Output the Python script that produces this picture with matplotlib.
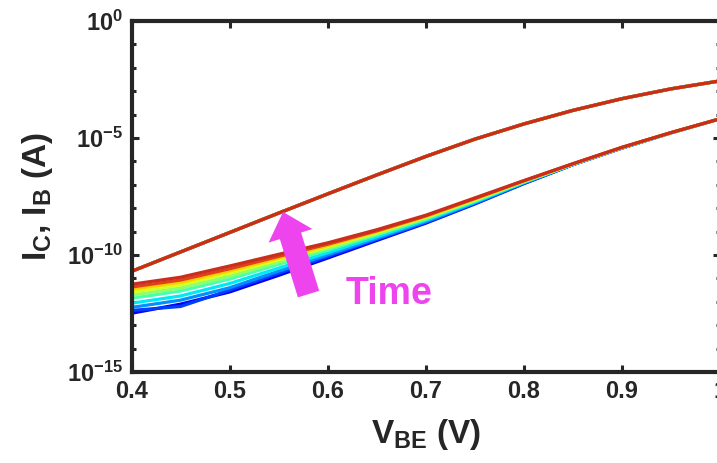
import numpy as np
import matplotlib
matplotlib.use("Agg")
import matplotlib.pyplot as plt
from matplotlib.patches import FancyArrowPatch
from matplotlib.ticker import NullFormatter, NullLocator

# ---------------- data (log10 of current in A) ----------------
vbe = [0.40, 0.45, 0.50, 0.55, 0.60, 0.65, 0.70, 0.75, 0.80, 0.85, 0.90, 0.95, 1.00]

log_ic = [-10.70, -9.87, -9.04, -8.21, -7.39, -6.58, -5.79, -5.05, -4.40, -3.82, -3.32, -2.90, -2.56]

log_ib_t1 = [-12.49, -12.10, -11.58, -10.87, -10.13, -9.38, -8.64, -7.82, -6.95, -6.14, -5.43, -4.78, -4.18]
log_ib_t2 = [-12.37, -12.20, -11.50, -10.78, -10.06, -9.33, -8.61, -7.80, -6.94, -6.14, -5.43, -4.78, -4.18]
log_ib_t3 = [-12.24, -11.93, -11.40, -10.69, -9.99, -9.29, -8.57, -7.77, -6.92, -6.13, -5.42, -4.78, -4.18]
log_ib_t4 = [-12.06, -11.75, -11.22, -10.56, -9.90, -9.22, -8.52, -7.74, -6.90, -6.13, -5.42, -4.78, -4.18]
log_ib_t5 = [-11.85, -11.54, -11.03, -10.40, -9.79, -9.14, -8.46, -7.70, -6.88, -6.12, -5.41, -4.78, -4.18]
log_ib_t6 = [-11.72, -11.41, -10.91, -10.31, -9.72, -9.10, -8.43, -7.67, -6.86, -6.12, -5.41, -4.77, -4.18]
log_ib_t7 = [-11.59, -11.28, -10.78, -10.21, -9.65, -9.04, -8.39, -7.64, -6.85, -6.11, -5.41, -4.77, -4.18]
log_ib_t8 = [-11.47, -11.17, -10.68, -10.13, -9.60, -9.00, -8.36, -7.61, -6.84, -6.11, -5.40, -4.77, -4.18]
log_ib_t9 = [-11.37, -11.07, -10.59, -10.06, -9.54, -8.97, -8.33, -7.59, -6.83, -6.10, -5.40, -4.77, -4.18]
log_ib_t10 = [-11.25, -10.95, -10.47, -9.97, -9.48, -8.92, -8.30, -7.56, -6.82, -6.10, -5.40, -4.77, -4.18]

ib_series = [log_ib_t1, log_ib_t2, log_ib_t3, log_ib_t4, log_ib_t5,
             log_ib_t6, log_ib_t7, log_ib_t8, log_ib_t9, log_ib_t10]

xticks = [0.4, 0.5, 0.6, 0.7, 0.8, 0.9, 1.0]
xtick_labels = ['0.4', '0.5', '0.6', '0.7', '0.8', '0.9', '1']
yticks = [1e-15, 1e-10, 1e-5, 1e0]
ytick_labels = [r'$10^{-15}$', r'$10^{-10}$', r'$10^{-5}$', r'$10^{0}$']
yminor = [10.0 ** k for k in range(-15, 1)]

annot_text = 'Time'

# ---------------- style ----------------
plt.rcParams['font.family'] = ['Liberation Sans', 'DejaVu Sans']
plt.rcParams['font.weight'] = 'bold'
plt.rcParams['mathtext.fontset'] = 'custom'
plt.rcParams['mathtext.rm'] = 'Liberation Sans:bold'
plt.rcParams['mathtext.it'] = 'Liberation Sans:bold'
plt.rcParams['mathtext.bf'] = 'Liberation Sans:bold'
plt.rcParams['mathtext.sf'] = 'Liberation Sans:bold'
plt.rcParams['mathtext.default'] = 'rm'

axcol = '#262626'

fig = plt.figure(figsize=(7.17, 4.63), dpi=100)
ax = fig.add_axes([131.5 / 717, 91 / 463, (720 - 131.5) / 717, 351 / 463])

cmap = plt.get_cmap('jet')
n = len(ib_series)
cols = [cmap(v) for v in np.linspace(0.1, 0.86, n)]
cols[-2] = '#e0401c'
cols[-1] = '#c92e1c'

V = np.array(vbe)
for i, s in enumerate(ib_series):
    ax.plot(V, 10.0 ** np.array(log_ic), color=cols[i], lw=2.3)
for i, s in enumerate(ib_series):
    ax.plot(V, 10.0 ** np.array(s), color=cols[i], lw=2.3)

ax.set_yscale('log')
ax.set_xlim(0.4, 1.0)
ax.set_ylim(1e-15, 1e0)

ax.set_xticks(xticks)
ax.set_xticklabels(xtick_labels)
ax.set_yticks(yticks)
ax.set_yticklabels(ytick_labels)
ax.set_yticks(yminor, minor=True)
ax.yaxis.set_minor_formatter(NullFormatter())
ax.xaxis.set_minor_locator(NullLocator())

for sp in ax.spines.values():
    sp.set_linewidth(3.0)
    sp.set_color(axcol)

ax.tick_params(which='major', direction='in', length=5, width=2.2, color=axcol,
               top=True, right=True, labelsize=17, labelcolor=axcol, pad=6)
ax.tick_params(which='minor', direction='in', length=3.2, width=2.2, color=axcol,
               top=True, right=True)
for lab in ax.get_xticklabels() + ax.get_yticklabels():
    lab.set_fontweight('bold')

ax.set_xlabel(r'$V_{BE}$ (V)', fontsize=24, fontweight='bold', color=axcol, va='top')
ax.xaxis.set_label_coords(0.5, -0.128)
ax.set_ylabel(r'$I_C$, $I_B$ (A)', fontsize=24, fontweight='bold', color=axcol)
ax.yaxis.set_label_coords(-0.13, 0.5)

arrow = FancyArrowPatch((0.5805, 10 ** -11.67), (0.5545, 10 ** -8.16),
                        arrowstyle='simple,head_width=33,head_length=18,tail_width=16',
                        mutation_scale=1, color='#ee44ee', lw=0,
                        shrinkA=0, shrinkB=0, zorder=5)
ax.add_patch(arrow)
ax.text(0.618, 10 ** -12.09, annot_text, color='#ee44ee', fontsize=27,
        fontweight='bold', ha='left', va='baseline', zorder=6)

fig.savefig('out.png', dpi=100)
